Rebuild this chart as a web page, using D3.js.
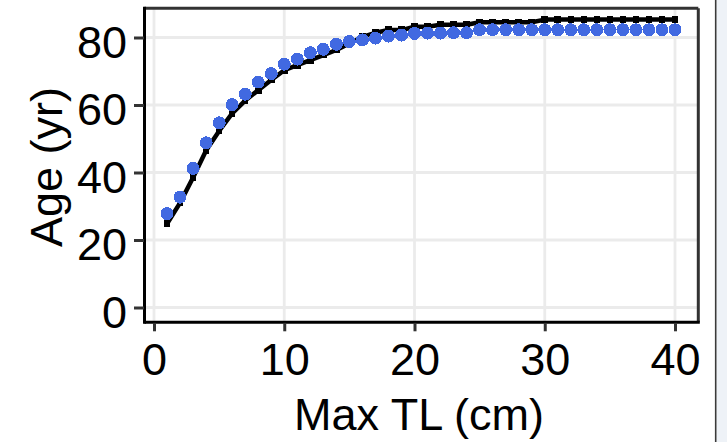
<!DOCTYPE html>
<html>
<head>
<meta charset="utf-8">
<script src="https://cdn.jsdelivr.net/npm/d3@7"></script>
<style>
  html, body { margin: 0; padding: 0; background: #ffffff; }
  svg { display: block; }
  text { font-family: "Liberation Sans", Arial, sans-serif; fill: #000; }
</style>
</head>
<body>
<script>
// Maximum total length (cm) at which each age is evaluated
const maxTL = [1, 2, 3, 4, 5, 6, 7, 8, 9, 10,
               11, 12, 13, 14, 15, 16, 17, 18, 19, 20,
               21, 22, 23, 24, 25, 26, 27, 28, 29, 30,
               31, 32, 33, 34, 35, 36, 37, 38, 39, 40];

// Age (yr) — black line with markers
const ageLine = [24.8, 31.0, 38.5, 46.5, 52.3, 57.5, 61.3, 64.4, 67.4, 70.3,
                 71.8, 73.3, 74.8, 76.3, 78.2, 80.2, 81.4, 82.2, 82.2, 83.2,
                 83.2, 83.8, 83.8, 83.8, 84.5, 84.5, 84.5, 84.5, 84.5, 85.3,
                 85.3, 85.3, 85.3, 85.3, 85.3, 85.3, 85.3, 85.3, 85.3, 85.3];

// Age (yr) — blue points
const agePoints = [27.8, 32.7, 41.2, 48.8, 54.7, 60.1, 63.2, 66.8, 69.3, 72.1,
                   73.6, 75.5, 76.5, 78.0, 78.8, 79.3, 79.8, 80.4, 80.7, 81.2,
                   81.3, 81.3, 81.4, 81.4, 82.3, 82.3, 82.3, 82.3, 82.3, 82.3,
                   82.3, 82.3, 82.3, 82.3, 82.3, 82.3, 82.3, 82.3, 82.3, 82.3];

const xTicks = [0, 10, 20, 30, 40];
const yTicks = [0, 20, 40, 60, 80];
const xTitle = "Max TL (cm)";
const yTitle = "Age (yr)";

const W = 727, H = 442;
const panel = { left: 144.5, right: 698.3, top: 8.3, bottom: 322.3 };

const svg = d3.select("body").append("svg")
  .attr("width", W).attr("height", H);

svg.append("rect").attr("width", W).attr("height", H).attr("fill", "#ffffff");

const x = d3.scaleLinear().domain([0, 40]).range([154, 675]);
const y = d3.scaleLinear().domain([0, 80]).range([307.5, 37.5]);

// grid
const grid = svg.append("g");
grid.selectAll("line.gx").data(xTicks).join("line")
  .attr("x1", d => x(d)).attr("x2", d => x(d))
  .attr("y1", panel.top).attr("y2", panel.bottom)
  .attr("stroke", "#ebebeb").attr("stroke-width", 2.8);
grid.selectAll("line.gy").data(yTicks).join("line")
  .attr("y1", d => y(d)).attr("y2", d => y(d))
  .attr("x1", panel.left).attr("x2", panel.right)
  .attr("stroke", "#ebebeb").attr("stroke-width", 2.8);

const rows = maxTL.map((t, i) => ({ t, a: ageLine[i], b: agePoints[i] }));

// black line and its markers
svg.append("path")
  .datum(rows)
  .attr("d", d3.line().x(d => x(d.t)).y(d => y(d.a)))
  .attr("fill", "none").attr("stroke", "#000")
  .attr("stroke-width", 4.5).attr("stroke-linejoin", "round");
svg.append("g").attr("shape-rendering", "crispEdges")
  .selectAll("rect").data(rows).join("rect")
  .attr("x", d => x(d.t) - 3.3).attr("y", d => y(d.a) - 3.8)
  .attr("width", 6.6).attr("height", 7.2).attr("fill", "#000");

// blue points
svg.append("g").attr("shape-rendering", "crispEdges")
  .selectAll("circle").data(rows).join("circle")
  .attr("cx", d => x(d.t)).attr("cy", d => y(d.b))
  .attr("r", 6.5).attr("fill", "#4169E1");

// panel border
svg.append("line").attr("x1", panel.left).attr("x2", panel.right)
  .attr("y1", panel.top).attr("y2", panel.top)
  .attr("stroke", "#333").attr("stroke-width", 3);
svg.append("line").attr("x1", panel.right).attr("x2", panel.right)
  .attr("y1", panel.top).attr("y2", panel.bottom)
  .attr("stroke", "#333").attr("stroke-width", 3);
svg.append("line").attr("x1", panel.left).attr("x2", panel.left)
  .attr("y1", panel.top - 1.5).attr("y2", panel.bottom + 1.5)
  .attr("stroke", "#000").attr("stroke-width", 3);
svg.append("line").attr("x1", panel.left).attr("x2", panel.right + 1.5)
  .attr("y1", panel.bottom).attr("y2", panel.bottom)
  .attr("stroke", "#000").attr("stroke-width", 3);

// axes
const xAxis = d3.axisBottom(x).tickValues(xTicks).tickSize(8.5).tickPadding(11).tickFormat(d3.format("d"));
const yAxis = d3.axisLeft(y).tickValues(yTicks).tickSize(10).tickPadding(7).tickFormat(d3.format("d"));

const gx = svg.append("g").attr("transform", `translate(0,${panel.bottom + 0.5})`).call(xAxis);
const gy = svg.append("g").attr("transform", `translate(${panel.left - 0.5},0)`).call(yAxis);
[gx, gy].forEach(g => {
  g.select(".domain").remove();
  g.selectAll(".tick line").attr("stroke", "#333").attr("stroke-width", 3);
  g.selectAll(".tick text").attr("font-size", 45).attr("fill", "#000")
    .attr("font-family", "'Liberation Sans', Arial, sans-serif");
});
gx.selectAll(".tick text").attr("dy", null).attr("y", 52);
gy.selectAll(".tick text").attr("dy", null).attr("y", 19.5);

// axis titles
svg.append("text").attr("x", 419).attr("y", 430)
  .attr("text-anchor", "middle").attr("font-size", 45).text(xTitle);
svg.append("text")
  .attr("transform", "translate(62,167) rotate(-90)")
  .attr("text-anchor", "middle").attr("font-size", 45).text(yTitle);

// window edge on the right
svg.append("rect").attr("x", 716.5).attr("y", 0).attr("width", W - 716.5).attr("height", H)
  .attr("fill", "#eef2f7");
svg.append("line").attr("x1", 715.7).attr("x2", 715.7).attr("y1", 0).attr("y2", H)
  .attr("stroke", "#3a3a3a").attr("stroke-width", 1.6);
</script>
</body>
</html>
